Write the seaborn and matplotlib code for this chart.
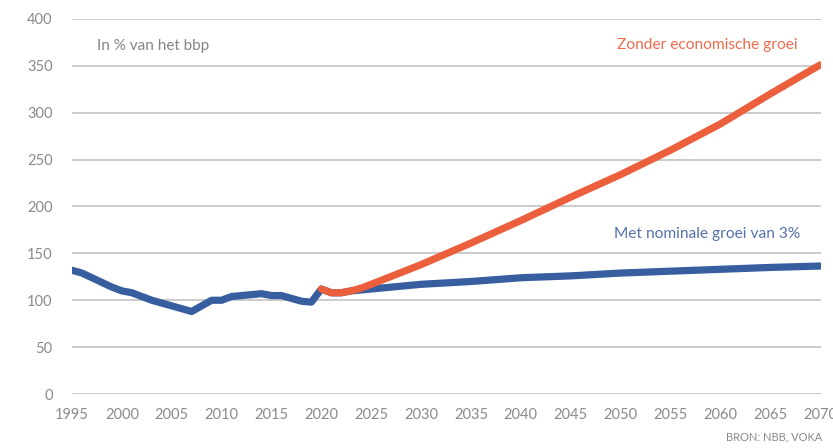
import pandas as pd
import matplotlib.pyplot as plt
import seaborn as sns

# Historische schuldgraad (in % van het bbp)
hist_years = list(range(1995, 2021))
hist_values = [132, 129, 124, 119, 114, 110, 108, 104, 100, 97, 94, 91, 88,
               94, 100, 100, 104, 105, 106, 107, 105, 105, 102, 99, 98, 112]

# Projectie met nominale groei van 3%
proj_years = [2021, 2022, 2023, 2024, 2025, 2030, 2035, 2040, 2045, 2050, 2055, 2060, 2065, 2070]
blue_proj = [108, 108, 110, 111, 112, 117, 120, 124, 126, 129, 131, 133, 135, 136.5]

# Projectie zonder economische groei
red_years = [2020, 2021, 2022, 2023, 2024, 2025, 2030, 2035, 2040, 2045, 2050, 2055, 2060, 2065, 2070]
red_values = [112, 108, 108, 110, 113, 117, 138, 161, 185, 210, 234, 260, 288, 320, 351]

x_ticks = list(range(1995, 2071, 5))
y_ticks = list(range(0, 401, 50))

BLUE = "#375E9F"
RED = "#EC5F3D"

df_blue = pd.DataFrame({"jaar": hist_years + proj_years, "schuld": hist_values + blue_proj})
df_red = pd.DataFrame({"jaar": red_years, "schuld": red_values})

sns.set_style("white")
plt.rcParams["font.family"] = ["Lato", "DejaVu Sans"]

fig = plt.figure(figsize=(8.33, 4.48), dpi=100)
ax = fig.add_axes([72 / 833, 54 / 448, 749 / 833, 375 / 448])

sns.lineplot(data=df_blue, x="jaar", y="schuld", color=BLUE, lw=5.2, ax=ax,
             solid_capstyle="round", solid_joinstyle="round")
sns.lineplot(data=df_red, x="jaar", y="schuld", color=RED, lw=5.2, ax=ax,
             solid_capstyle="round", solid_joinstyle="round")

ax.set_xlim(1995, 2070.1)
ax.set_ylim(0, 400)
ax.set_xticks(x_ticks)
ax.set_yticks(y_ticks)
ax.yaxis.grid(True, color="#BDBDBD", lw=1.1)
ax.set_axisbelow(True)
for s in ax.spines.values():
    s.set_visible(False)
ax.tick_params(axis="both", length=0, labelsize=10.5, labelcolor="#8A8A8A")
ax.tick_params(axis="x", pad=10)
ax.tick_params(axis="y", pad=14)
ax.set_xlabel("")
ax.set_ylabel("")

ax.text(1997.5, 371, "In % van het bbp", color="#858585", fontsize=11, va="center")
ax.text(2067.8, 372, "Zonder economische groei", color="#EF6B4E", fontsize=11.2,
        ha="right", va="center")
ax.text(2068, 171, "Met nominale groei van 3%", color="#5573AA", fontsize=11.2,
        ha="right", va="center")
fig.text(822 / 833, 1 - 437 / 448, "BRON: NBB, VOKA", color="#8A8A8A", fontsize=8,
         ha="right", va="center")

fig.savefig("out.png", dpi=100)
